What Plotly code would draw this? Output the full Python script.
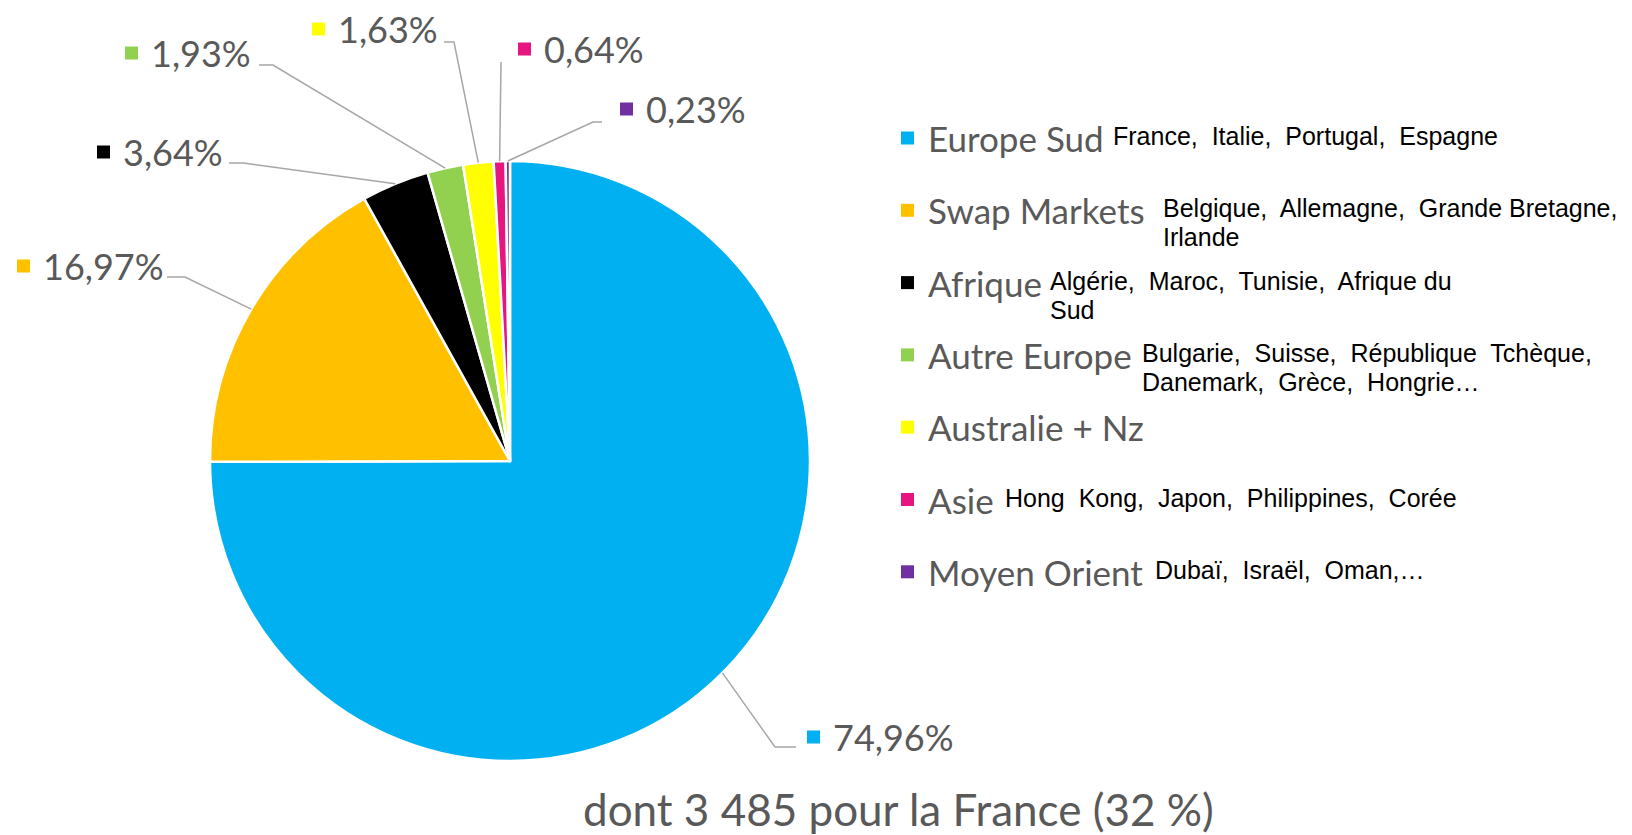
import math
import plotly.graph_objects as go

# ---------------- data ----------------
categories = ["Europe Sud", "Swap Markets", "Afrique", "Autre Europe",
              "Australie + Nz", "Asie", "Moyen Orient"]
shares = [74.96, 16.97, 3.64, 1.93, 1.63, 0.64, 0.23]
share_labels = ["74,96%", "16,97%", "3,64%", "1,93%", "1,63%", "0,64%", "0,23%"]
descriptions = [
    ["France,  Italie,  Portugal,  Espagne"],
    ["Belgique,  Allemagne,  Grande Bretagne,", "Irlande"],
    ["Algérie,  Maroc,  Tunisie,  Afrique du", "Sud"],
    ["Bulgarie,  Suisse,  République  Tchèque,", "Danemark,  Grèce,  Hongrie…"],
    [],
    ["Hong  Kong,  Japon,  Philippines,  Corée"],
    ["Dubaï,  Israël,  Oman,…"],
]
subtitle = "dont 3 485 pour la France (32 %)"

# ---------------- style / layout ----------------
colors = ["#00B0F0", "#FFC000", "#000000", "#92D050", "#FFFF00", "#E6157F", "#7030A0"]
PAGE_W, PAGE_H = 1632, 835
BODY = 8                      # default page margin around the plot div
W, H = PAGE_W - BODY, PAGE_H - BODY
CX, CY, R = 510, 461, 300     # pie centre / radius in page pixels
GREY = "#595959"
LEADER = "#A6A6A6"
LABEL_FONT = "Lato, 'Open Sans', sans-serif"
DESC_FONT = "'Liberation Sans', Arial, sans-serif"

# data label placement (page px): square left x, label centre y, leader anchor points
label_boxes = [
    (807, 737, [(796, 747), (775, 747)]),
    (17, 266, [(167, 277), (185, 277)]),
    (97, 152, [(229, 163), (243, 163)]),
    (125, 53, [(259, 65), (273, 65)]),
    (312, 29, [(444, 42), (454, 42)]),
    (518, 49, [(501, 62)]),
    (620, 109, [(602, 122), (593, 122)]),
]
# legend placement (page px)
LEG_SQ_X = 901
LEG_TXT_X = 926
LEG_Y0, LEG_DY = 138, 72.3
desc_x = [1111, 1161, 1048, 1140, None, 1003, 1153]
DESC_DY = 29
SQ = 13


def px(x):
    return (x - BODY) / W


def py(y):
    return 1 - (y - BODY) / H


fig = go.Figure(go.Pie(
    labels=categories,
    values=shares,
    sort=False,
    direction="clockwise",
    rotation=0,
    marker=dict(colors=colors, line=dict(color="white", width=2.5)),
    textinfo="none",
    hoverinfo="label+percent",
    showlegend=False,
    domain=dict(x=[px(CX - R), px(CX + R)], y=[py(CY + R), py(CY - R)]),
))

shapes = []
annotations = []

total = sum(shares)
cum = 0.0
for i, v in enumerate(shares):
    mid = (cum + v / 2) / total * 2 * math.pi
    cum += v
    ex = CX + R * math.sin(mid)
    ey = CY - R * math.cos(mid)
    bx, by, pts = label_boxes[i]
    path_pts = pts + [(ex, ey)]
    path = "M " + " L ".join(f"{px(x):.5f},{py(y):.5f}" for x, y in path_pts)
    shapes.append(dict(type="path", path=path, xref="paper", yref="paper",
                       line=dict(color=LEADER, width=1.5)))
    shapes.append(dict(type="rect", xref="paper", yref="paper",
                       x0=px(bx), x1=px(bx + SQ), y0=py(by + SQ / 2), y1=py(by - SQ / 2),
                       fillcolor=colors[i], line=dict(width=0)))
    annotations.append(dict(text=share_labels[i], x=px(bx + 24), y=py(by),
                            xref="paper", yref="paper", xanchor="left", yanchor="middle",
                            showarrow=False, font=dict(family=LABEL_FONT, size=36, color=GREY)))

# legend
for i, cat in enumerate(categories):
    ly = LEG_Y0 + LEG_DY * i
    shapes.append(dict(type="rect", xref="paper", yref="paper",
                       x0=px(LEG_SQ_X), x1=px(LEG_SQ_X + SQ), y0=py(ly + SQ / 2), y1=py(ly - SQ / 2),
                       fillcolor=colors[i], line=dict(width=0)))
    annotations.append(dict(text=cat, x=px(LEG_TXT_X), y=py(ly),
                            xref="paper", yref="paper", xanchor="left", yanchor="middle",
                            showarrow=False, font=dict(family=LABEL_FONT, size=35, color=GREY)))
    for k, line in enumerate(descriptions[i]):
        annotations.append(dict(text=line.replace("  ", "\u00a0 "), x=px(desc_x[i]),
                                y=py(ly - 2 + DESC_DY * k),
                                xref="paper", yref="paper", xanchor="left", yanchor="middle",
                                showarrow=False, font=dict(family=DESC_FONT, size=25, color="black")))

annotations.append(dict(text=subtitle, x=px(898), y=py(809), xref="paper", yref="paper",
                        xanchor="center", yanchor="middle", showarrow=False,
                        font=dict(family=LABEL_FONT, size=44, color=GREY)))

fig.update_layout(
    width=W, height=H,
    margin=dict(l=0, r=0, t=0, b=0),
    paper_bgcolor="white", plot_bgcolor="white",
    shapes=shapes, annotations=annotations,
)

fig.write_html("out.html")
